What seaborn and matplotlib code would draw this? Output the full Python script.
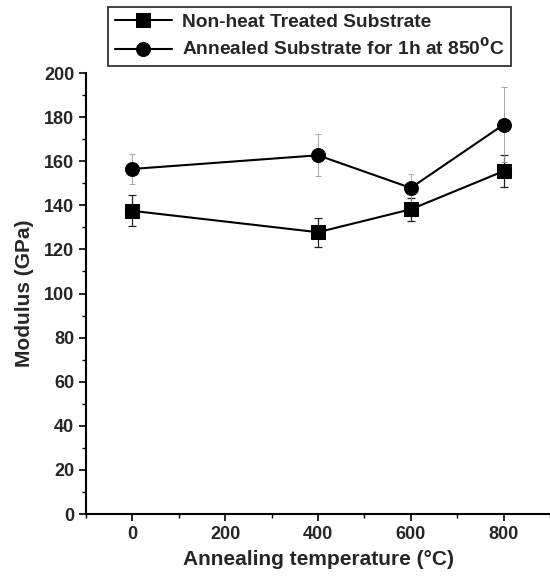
import matplotlib
matplotlib.use("Agg")
import matplotlib.pyplot as plt
import seaborn as sns
import pandas as pd
from matplotlib.ticker import MultipleLocator

temps = [0, 400, 600, 800]
non_heat = [137.5, 127.8, 138.2, 155.5]
non_heat_err = [7.0, 6.6, 5.2, 7.4]
annealed = [156.5, 162.7, 147.9, 176.6]
annealed_err = [6.7, 9.5, 6.5, 17.0]
labels = ["Non-heat Treated Substrate", r"Annealed Substrate for 1h at 850$^\mathbf{0}$C"]

sns.set_theme(style="ticks")
plt.rcParams['font.family'] = ['Liberation Sans', 'DejaVu Sans']
plt.rcParams['font.weight'] = 'bold'
plt.rcParams['mathtext.default'] = 'bf'

df = pd.DataFrame({
    "temp": temps * 2,
    "mod": non_heat + annealed,
    "series": [labels[0]] * 4 + [labels[1]] * 4,
})

fig = plt.figure(figsize=(5.5, 5.76), dpi=100)
ax = fig.add_axes([0.1564, 0.1076, 0.8436, 0.7656])

ax.errorbar(temps, non_heat, yerr=non_heat_err, fmt='none', ecolor='#222222',
            elinewidth=0.9, capsize=3, capthick=0.9, zorder=1)
ax.errorbar(temps, annealed, yerr=annealed_err, fmt='none', ecolor='#999999',
            elinewidth=0.6, capsize=2, capthick=0.6, linestyle=':', zorder=1)

sns.lineplot(data=df, x="temp", y="mod", hue="series", style="series",
             markers=["s", "o"], dashes=False, palette=["black", "black"],
             markersize=10, linewidth=1.5, markeredgecolor='black', ax=ax, zorder=3)

ax.set_xlim(-100, 900)
ax.set_ylim(0, 200)
ax.set_xticks([0, 200, 400, 600, 800])
ax.set_yticks(range(0, 201, 20))
ax.xaxis.set_minor_locator(MultipleLocator(100))
ax.yaxis.set_minor_locator(MultipleLocator(10))
ax.tick_params(axis='both', which='major', length=5, width=1.2, labelsize=13, color='black')
ax.tick_params(axis='both', which='minor', length=3, width=1.0, color='black')
for lab in ax.get_xticklabels() + ax.get_yticklabels():
    lab.set_fontweight('bold')

for s in ['top', 'right']:
    ax.spines[s].set_visible(False)
for s in ['left', 'bottom']:
    ax.spines[s].set_linewidth(1.5)
    ax.spines[s].set_color('black')

ax.set_xlabel("Annealing temperature (°C)", fontsize=15, fontweight='bold', labelpad=5)
ax.set_ylabel("Modulus (GPa)", fontsize=15, fontweight='bold', labelpad=7)

h, l = ax.get_legend_handles_labels()
if ax.get_legend():
    ax.get_legend().remove()
leg = fig.legend(h, l, loc='upper left', bbox_to_anchor=(108/550, 1 - 7/576),
                 frameon=True, fancybox=False, edgecolor='black',
                 handlelength=3.0, borderpad=0.35, labelspacing=0.35, handletextpad=0.5,
                 borderaxespad=0.0,
                 prop={'weight': 'bold', 'size': 13.8})
leg.get_frame().set_linewidth(1.3)

fig.savefig("out.png", dpi=100)
